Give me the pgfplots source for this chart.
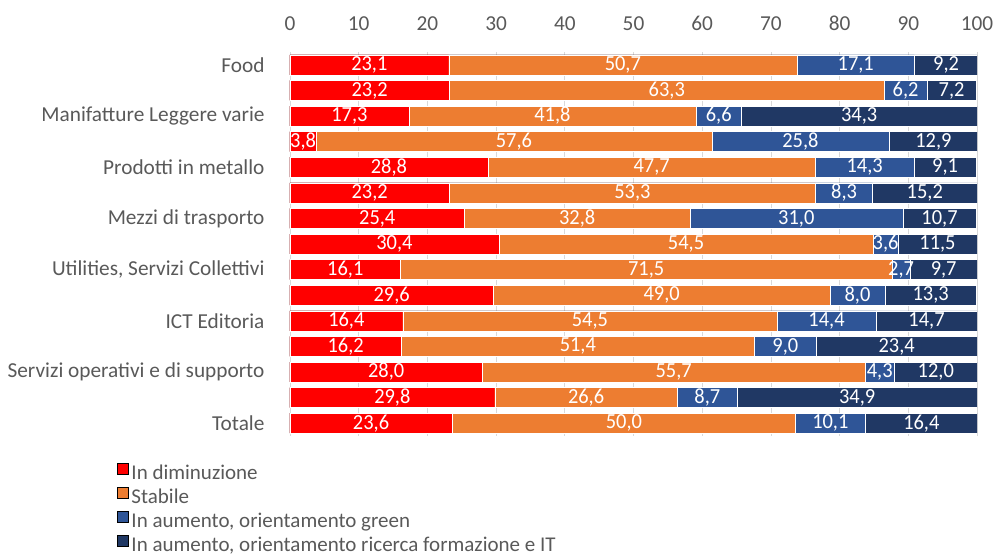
\documentclass[border=0pt]{standalone}
\usepackage{graphicx}
\usepackage{fontspec}
\setmainfont{Carlito}
\usepackage{pgfplots}
\usepackage{pgfplotstable}
\pgfplotsset{compat=1.18}

\definecolor{cRed}{RGB}{255,0,0}
\definecolor{cOrange}{RGB}{237,125,49}
\definecolor{cBlue}{RGB}{47,85,151}
\definecolor{cNavy}{RGB}{32,56,100}
\definecolor{txtgray}{RGB}{89,89,89}
\definecolor{gridgray}{RGB}{217,217,217}

% one row per bar, top to bottom; a..d are the four segments
\pgfplotstableread{
y a b c d
0 23.1 50.7 17.1 9.2
1 23.2 63.3 6.2 7.2
2 17.3 41.8 6.6 34.3
3 3.8 57.6 25.8 12.9
4 28.8 47.7 14.3 9.1
5 23.2 53.3 8.3 15.2
6 25.4 32.8 31.0 10.7
7 30.4 54.5 3.6 11.5
8 16.1 71.5 2.7 9.7
9 29.6 49.0 8.0 13.3
10 16.4 54.5 14.4 14.7
11 16.2 51.4 9.0 23.4
12 28.0 55.7 4.3 12.0
13 29.8 26.6 8.7 34.9
14 23.6 50.0 10.1 16.4
}\datatab

\pgfplotsset{
  seg/.style={xbar, fill=#1, draw=white, line width=0.3pt},
  lab/.style={draw=none, mark=none, forget plot, point meta=explicit,
    nodes near coords={\scalebox{0.95}[1]{\pgfmathprintnumber\pgfplotspointmeta}},
    every node near coord/.append style={font=\fontsize{21.5}{22}\selectfont, text=white, anchor=center}},
}

\begin{document}
\begin{tikzpicture}
\useasboundingbox (-290pt,-119pt) rectangle (703pt,436pt);
\begin{axis}[
  scale only axis,
  width=687pt, height=384pt,
  bar width=0.78,
  bar shift=0pt,
  xmin=0, xmax=100,
  ymin=-0.5, ymax=14.5,
  y dir=reverse,
  xtick={0,10,...,100},
  ytick={0,2,...,14},
  yticklabels={Food, Manifatture Leggere varie, Prodotti in metallo, Mezzi di trasporto, {Utilities, Servizi Collettivi}, ICT Editoria, Servizi operativi e di supporto, Totale},
  axis x line*=top,
  axis y line*=left,
  x axis line style={draw=none},
  y axis line style={draw=gridgray, line width=0.8pt},
  major tick length=0pt,
  xmajorgrids,
  grid style={draw=gridgray, line width=0.8pt},
  tick label style={font=\fontsize{21.3}{22}\selectfont, text=txtgray},
  xticklabel style={yshift=18pt},
  yticklabel style={xshift=-22pt},
  /pgf/number format/assume math mode=true,
  /pgf/number format/.cd, fixed, fixed zerofill, precision=1, use comma,
  /pgfplots/.cd,
  xticklabel={\pgfmathprintnumber[fixed, precision=0]{\tick}},
  legend style={at={(axis description cs:-0.2520,-0.069)}, anchor=north west, draw=none, fill=none, inner sep=0pt,
    font=\fontsize{21}{22}\selectfont, text=txtgray, row sep=0pt,
    nodes={inner xsep=3pt, inner ysep=2pt, text height=15pt, text depth=5pt}},
  legend cell align=left,
  legend image code/.code={\fill[#1] (0pt,0.5pt) rectangle (11pt,11.5pt);},
]
% cumulative bars, drawn from the longest down
\addplot[seg=cNavy, forget plot] table[x expr=\thisrow{a}+\thisrow{b}+\thisrow{c}+\thisrow{d}, y=y] {\datatab};
\addplot[seg=cBlue, forget plot] table[x expr=\thisrow{a}+\thisrow{b}+\thisrow{c}, y=y] {\datatab};
\addplot[seg=cOrange, forget plot] table[x expr=\thisrow{a}+\thisrow{b}, y=y] {\datatab};
\addplot[seg=cRed, forget plot] table[x=a, y=y] {\datatab};
% value labels at segment centres
\addplot[lab] table[x expr=\thisrow{a}/2, y=y, meta=a] {\datatab};
\addplot[lab] table[x expr=\thisrow{a}+\thisrow{b}/2, y=y, meta=b] {\datatab};
\addplot[lab] table[x expr=\thisrow{a}+\thisrow{b}+\thisrow{c}/2, y=y, meta=c] {\datatab};
\addplot[lab] table[x expr=\thisrow{a}+\thisrow{b}+\thisrow{c}+\thisrow{d}/2, y=y, meta=d] {\datatab};
\addlegendimage{fill=cRed}
\addlegendimage{fill=cOrange}
\addlegendimage{fill=cBlue}
\addlegendimage{fill=cNavy}
\legend{In diminuzione, Stabile, {In aumento, orientamento green}, {In aumento, orientamento ricerca formazione e IT}}
\end{axis}
\end{tikzpicture}
\end{document}
